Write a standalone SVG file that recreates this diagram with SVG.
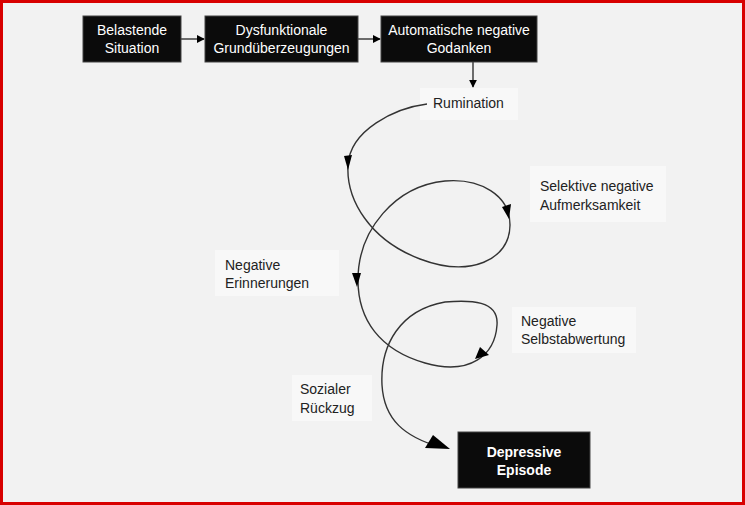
<svg xmlns="http://www.w3.org/2000/svg" width="745" height="505" viewBox="0 0 745 505">
<defs>
<style>
.bg{fill:#f2f2f2}
.frame{fill:none;stroke:#d80000;stroke-width:3}
.box{fill:#0b0b0b;stroke:#444;stroke-width:1}
.lbl{fill:#f8f8f8}
.wt{fill:#ffffff;font-family:"Liberation Sans",Arial,sans-serif;font-size:14px;text-anchor:middle}
.bt{font-weight:bold}
.dt{fill:#222;font-family:"Liberation Sans",Arial,sans-serif;font-size:14px}
.line{fill:none;stroke:#333;stroke-width:1.4}
.head{fill:#000}
</style>
<marker id="ah" viewBox="0 0 10 10" refX="9" refY="5" markerWidth="8" markerHeight="8" markerUnits="userSpaceOnUse" orient="auto">
<path d="M0,0 L10,5 L0,10 Z" fill="#000"/>
</marker>
</defs>
<rect class="bg" x="0" y="0" width="745" height="505"/>
<rect class="frame" x="1.5" y="1.5" width="742" height="502"/>

<g id="labels-bg">
<rect class="lbl" x="420" y="88" width="98" height="32"/>
<rect class="lbl" x="530" y="166" width="136" height="56"/>
<rect class="lbl" x="215" y="250" width="124" height="46"/>
<rect class="lbl" x="512" y="307" width="124" height="46"/>
<rect class="lbl" x="292" y="375" width="80" height="46"/>
</g>

<g id="connectors">
<line class="line" x1="181" y1="39" x2="204" y2="39" marker-end="url(#ah)"/>
<line class="line" x1="358" y1="39" x2="380" y2="39" marker-end="url(#ah)"/>
<line class="line" x1="473" y1="62" x2="473" y2="87" marker-end="url(#ah)"/>
<path class="line" d="M427,104 C395,108 350,130 348,165 C346,200 370,240 420,259 C470,278 510,260 510,225 C510,195 480,178 445,181 C395,186 358,230 358,280 C358,320 380,350 425,363 C470,376 495,355 497,325 C499,300 470,300 445,302 C400,310 380,345 382,385 C384,420 405,437 440,447"/>
<polygon class="head" points="344,156 352,155 348,170"/>
<polygon class="head" points="502,207 511,204 509,219"/>
<polygon class="head" points="352,273 361,273 357,287"/>
<polygon class="head" points="480,347 489,355 475,359"/>
<polygon class="head" points="425,448 433,435 450,449"/>
</g>

<g id="n1">
<rect class="box" x="83" y="16" width="98" height="46"/>
<text class="wt" x="132" y="35">Belastende</text>
<text class="wt" x="132" y="53">Situation</text>
</g>
<g id="n2">
<rect class="box" x="205" y="16" width="153" height="46"/>
<text class="wt" x="281.5" y="35">Dysfunktionale</text>
<text class="wt" x="281.5" y="53">Grundüberzeugungen</text>
</g>
<g id="n3">
<rect class="box" x="381" y="16" width="156" height="46"/>
<text class="wt" x="459" y="35">Automatische negative</text>
<text class="wt" x="459" y="53">Godanken</text>
</g>
<g id="n4">
<text class="dt" x="433" y="108">Rumination</text>
</g>
<g id="n5">
<text class="dt" x="540" y="191">Selektive negative</text>
<text class="dt" x="540" y="210">Aufmerksamkeit</text>
</g>
<g id="n6">
<text class="dt" x="225" y="270">Negative</text>
<text class="dt" x="225" y="288">Erinnerungen</text>
</g>
<g id="n7">
<text class="dt" x="521" y="326">Negative</text>
<text class="dt" x="521" y="344">Selbstabwertung</text>
</g>
<g id="n8">
<text class="dt" x="300" y="394">Sozialer</text>
<text class="dt" x="300" y="413">Rückzug</text>
</g>
<g id="n9">
<rect class="box" x="458" y="432" width="132" height="56"/>
<text class="wt bt" x="524" y="457">Depressive</text>
<text class="wt bt" x="524" y="475">Episode</text>
</g>
</svg>
